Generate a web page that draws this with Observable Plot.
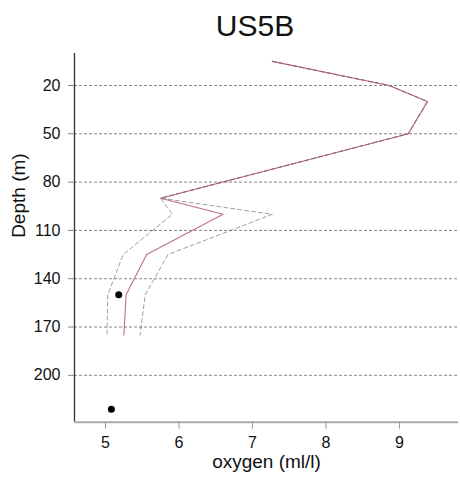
<!DOCTYPE html>
<html>
<head>
<meta charset="utf-8">
<script src="https://cdn.jsdelivr.net/npm/d3@7"></script>
<script src="https://cdn.jsdelivr.net/npm/@observablehq/plot@0.6"></script>
<style>
  html, body { margin: 0; padding: 0; background: #fff; }
  #wrap { position: relative; width: 460px; height: 479px; font-family: "Liberation Sans", Arial, sans-serif; }
  #title { position: absolute; left: 0; top: 11px; width: 460px; padding-left: 50px; box-sizing: border-box; text-align: center; font-size: 30px; line-height: 30px; color: #111; }
  #chart { position: absolute; left: 0; top: 50px; }
</style>
</head>
<body>
<div id="wrap">
  <div id="title">US5B</div>
  <div id="chart"></div>
</div>
<script>
// Depth profile (m) and oxygen (ml/l)
const depth = [5, 20, 30, 50, 90, 100, 125, 150, 175];
const meanOxygen = [7.27, 8.86, 9.38, 9.12, 5.75, 6.60, 5.56, 5.28, 5.25];
const lowerOxygen = [7.27, 8.86, 9.38, 9.12, 5.75, 5.91, 5.24, 5.03, 5.02];
const upperOxygen = [7.27, 8.86, 9.38, 9.12, 5.75, 7.27, 5.85, 5.54, 5.47];

// Observed points
const obsDepth = [150, 221];
const obsOxygen = [5.18, 5.08];

// Ticks
const depthTicks = [20, 50, 80, 110, 140, 170, 200];
const oxygenTicks = [5, 6, 7, 8, 9];

const xDomain = [4.578, 9.803];
const yDomain = [0.13, 229.1];

const profile = depth.map((d, i) => ({depth: d, mean: meanOxygen[i], lower: lowerOxygen[i], upper: upperOxygen[i]}));
const obs = obsDepth.map((d, i) => ({depth: d, oxygen: obsOxygen[i]}));

const chart = Plot.plot({
  width: 460,
  height: 429,
  marginLeft: 74,
  marginRight: 2,
  marginTop: 3,
  marginBottom: 57.3,
  style: {fontFamily: "Liberation Sans, Arial, sans-serif", background: "#fff", color: "#111"},
  x: {domain: xDomain},
  y: {domain: yDomain, reverse: true},
  marks: [
    Plot.ruleY(depthTicks, {stroke: "#666", strokeWidth: 1, strokeDasharray: "3,2", strokeOpacity: 0.8}),
    Plot.line(profile, {x: "lower", y: "depth", stroke: "#4a4a78", strokeWidth: 1, strokeDasharray: "4,3", strokeOpacity: 0.55}),
    Plot.line(profile, {x: "upper", y: "depth", stroke: "#4a4a78", strokeWidth: 1, strokeDasharray: "4,3", strokeOpacity: 0.55}),
    Plot.line(profile, {x: "mean", y: "depth", stroke: "#b05868", strokeWidth: 1.1, strokeOpacity: 0.85}),
    Plot.dot(obs, {x: "oxygen", y: "depth", r: 3.5, fill: "#000", stroke: null}),
    Plot.ruleX([xDomain[0]], {stroke: "#333", strokeWidth: 1.3}),
    Plot.ruleY([yDomain[1]], {stroke: "#aaa", strokeWidth: 2}),
    Plot.axisY({ticks: depthTicks, tickSize: 6, tickPadding: 8, fontSize: 16, label: null, stroke: "#888"}),
    Plot.axisX({ticks: oxygenTicks, tickFormat: d => String(d), tickSize: 7, tickPadding: 7, fontSize: 16, label: null, stroke: "#999"}),
    Plot.text(["Depth (m)"], {frameAnchor: "left", rotate: -90, dx: -50, lineAnchor: "bottom", fontSize: 19, fill: "#111"}),
    Plot.text(["oxygen (ml/l)"], {frameAnchor: "bottom", dy: 46, lineAnchor: "bottom", fontSize: 19, fill: "#111"})
  ]
});
document.getElementById("chart").appendChild(chart);
</script>
</body>
</html>
